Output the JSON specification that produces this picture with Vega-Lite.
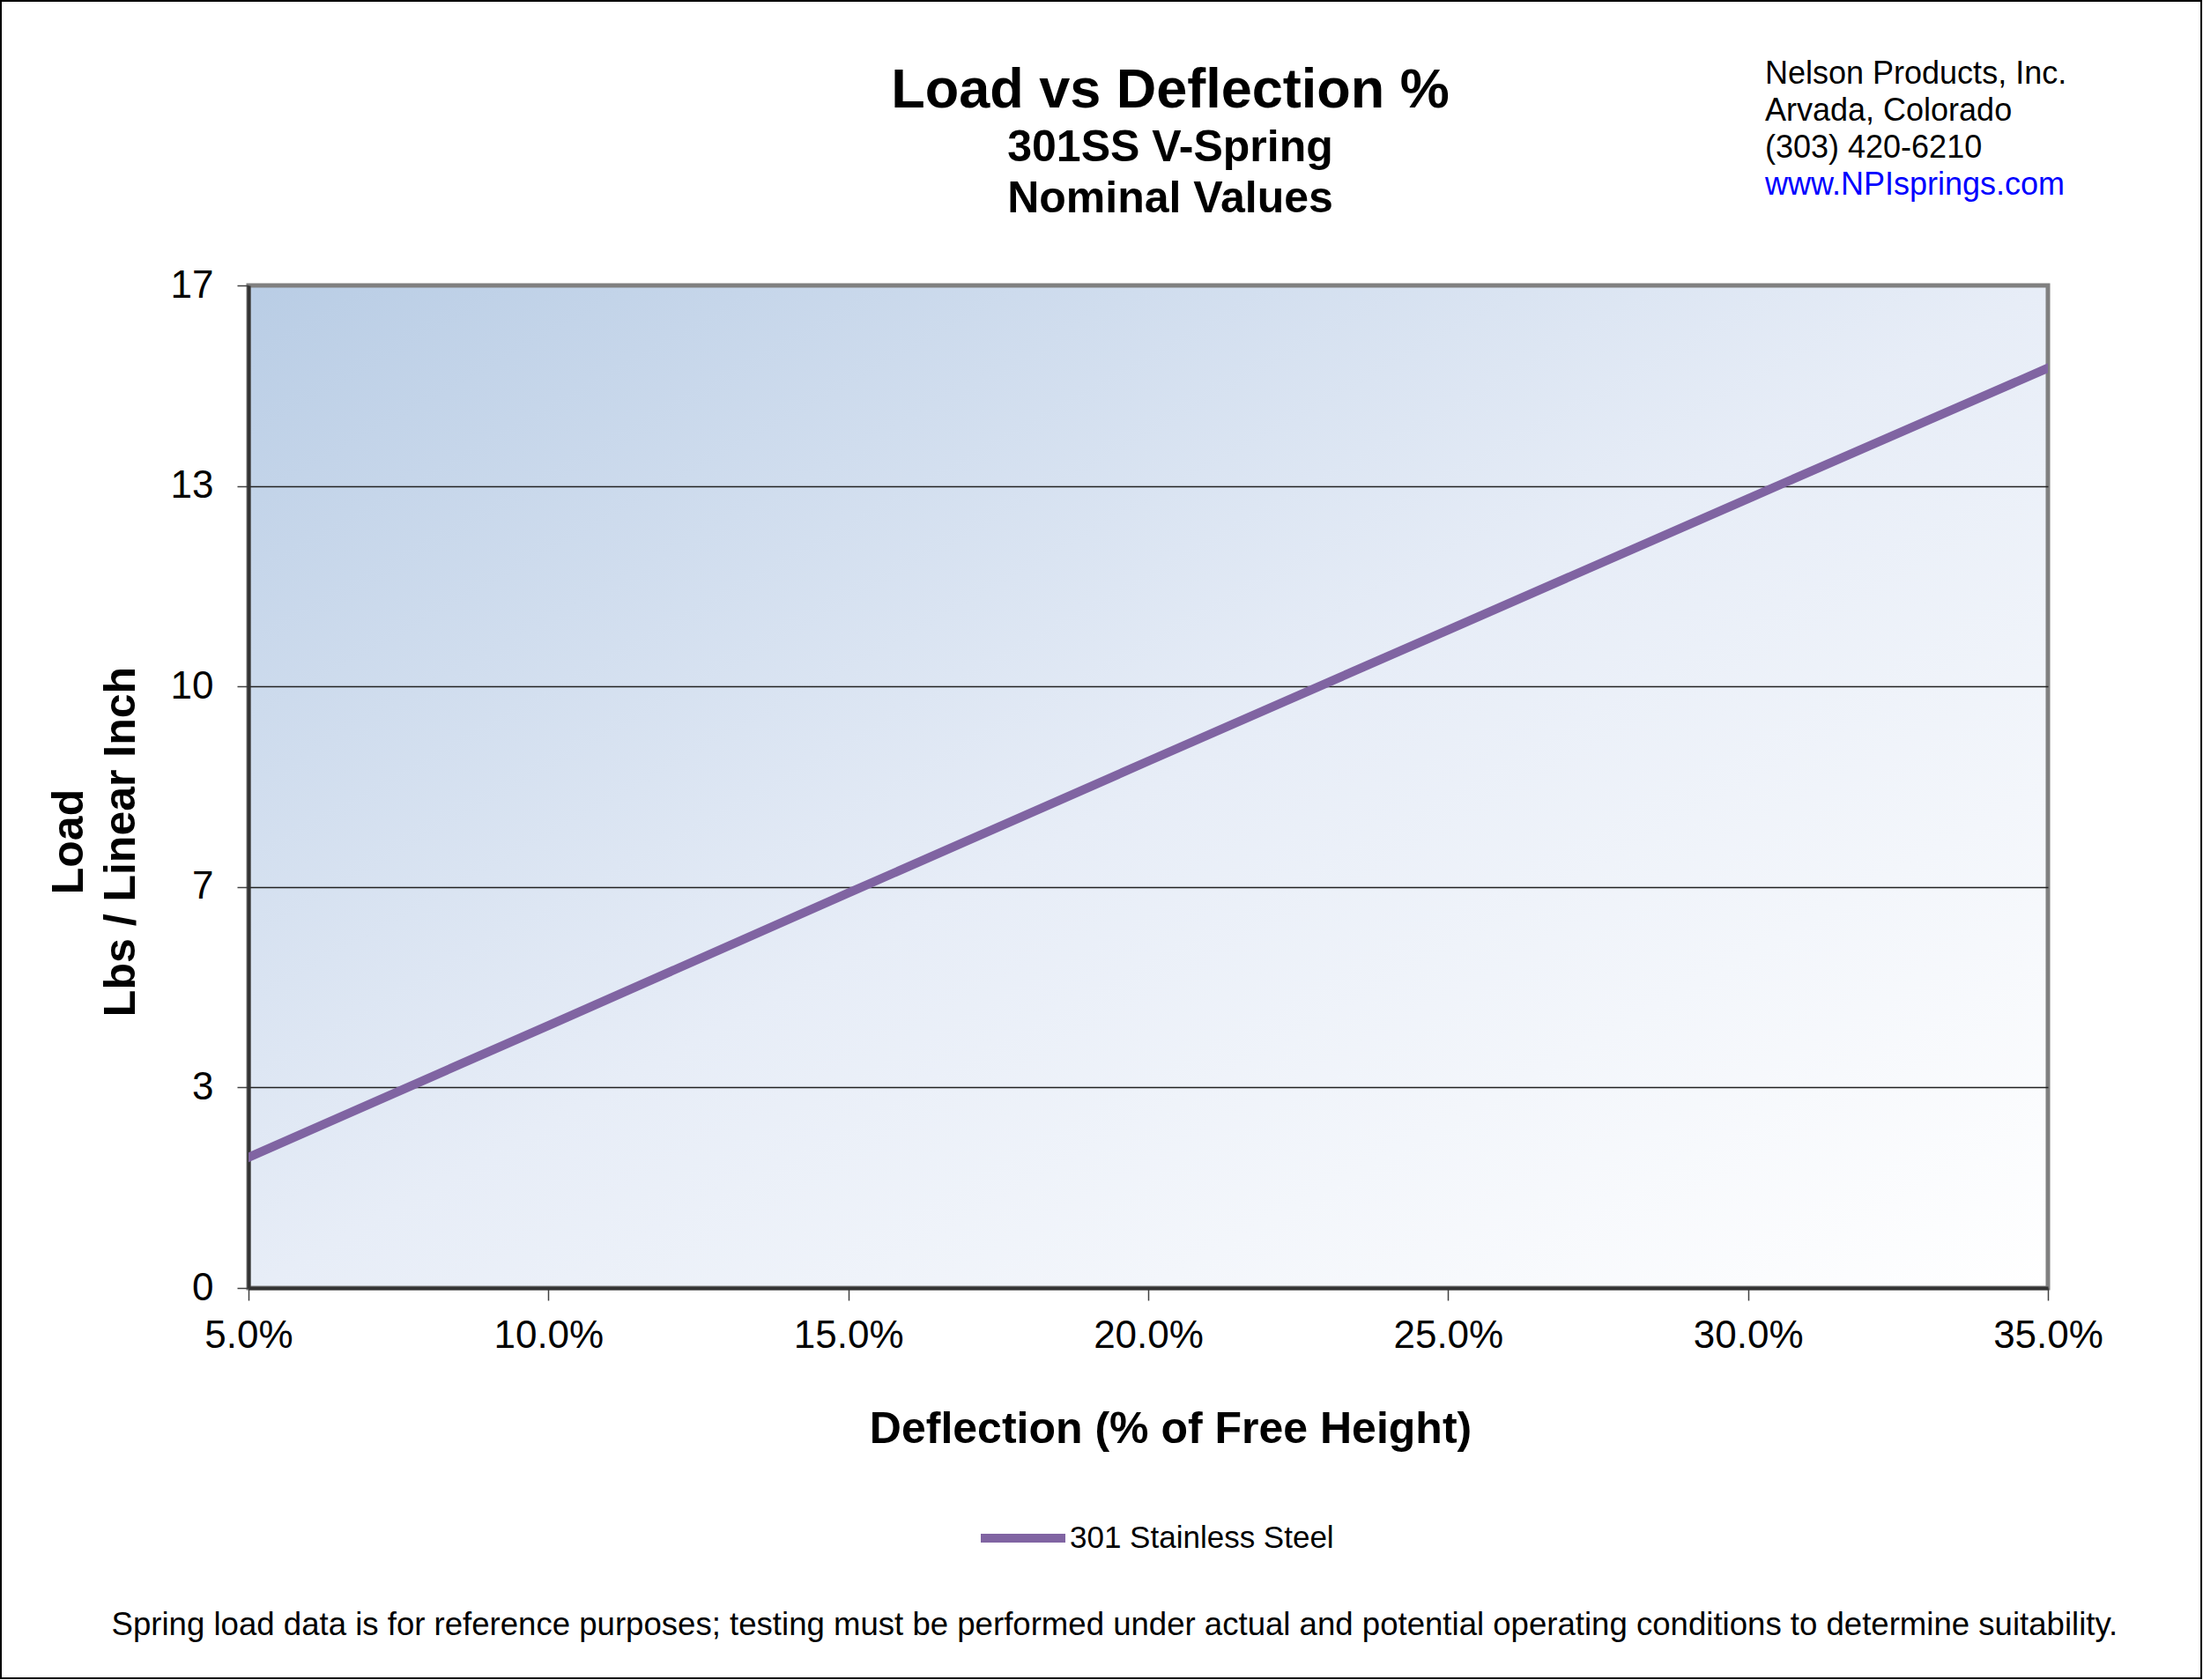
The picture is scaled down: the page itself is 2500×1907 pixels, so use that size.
{
  "$schema": "https://vega.github.io/schema/vega-lite/v6.json",
  "width": 2042,
  "height": 1138,
  "autosize": {"type": "none"},
  "padding": {"left": 282, "top": 324, "right": 176, "bottom": 445},
  "background": "white",
  "config": {
    "font": "Liberation Sans",
    "view": {
      "fill": {
        "gradient": "linear",
        "x1": 0, "y1": 0, "x2": 1, "y2": 1,
        "stops": [
          {"offset": 0, "color": "#b9cde5"},
          {"offset": 0.5, "color": "#e7edf7"},
          {"offset": 1, "color": "#ffffff"}
        ]
      },
      "stroke": "#808080",
      "strokeWidth": 5
    }
  },
  "title": {
    "text": "Load vs Deflection %",
    "subtitle": ["301SS V-Spring", "Nominal Values"],
    "anchor": "middle",
    "frame": "group",
    "dx": 25,
    "dy": 251,
    "offset": 0,
    "fontSize": 63,
    "fontWeight": "bold",
    "color": "black",
    "subtitleFontSize": 50,
    "subtitleFontWeight": "bold",
    "subtitleColor": "black",
    "subtitleLineHeight": 58,
    "subtitlePadding": 8
  },
  "data": {
    "values": [
      {"deflection": 0.05, "load": 2.15, "series": "301 Stainless Steel"},
      {"deflection": 0.10, "load": 4.32, "series": "301 Stainless Steel"},
      {"deflection": 0.15, "load": 6.50, "series": "301 Stainless Steel"},
      {"deflection": 0.20, "load": 8.67, "series": "301 Stainless Steel"},
      {"deflection": 0.25, "load": 10.83, "series": "301 Stainless Steel"},
      {"deflection": 0.30, "load": 12.99, "series": "301 Stainless Steel"},
      {"deflection": 0.35, "load": 15.14, "series": "301 Stainless Steel"}
    ]
  },
  "layer": [
    {
      "mark": {"type": "line", "strokeWidth": 10, "strokeCap": "square", "clip": true},
      "encoding": {
        "x": {
          "field": "deflection",
          "type": "quantitative",
          "scale": {"domain": [0.05, 0.35], "nice": false, "zero": false},
          "axis": {
            "values": [0.05, 0.1, 0.15, 0.2, 0.25, 0.3, 0.35],
            "format": ".1%",
            "title": "Deflection (% of Free Height)",
            "titleFontSize": 50,
            "titleFontWeight": "bold",
            "titleColor": "black",
            "titleX": 1046,
            "titleY": 175,
            "titleAlign": "center",
            "titleBaseline": "alphabetic",
            "labelFontSize": 44,
            "labelColor": "black",
            "labelPadding": 18,
            "labelFlush": false,
            "labelOverlap": false,
            "tickSize": 14,
            "tickColor": "#404040",
            "tickWidth": 1.5,
            "domainColor": "#333333",
            "domainWidth": 4,
            "grid": false
          }
        },
        "y": {
          "field": "load",
          "type": "quantitative",
          "scale": {"domain": [0, 16.5], "nice": false},
          "axis": {
            "values": [0, 3.3, 6.6, 9.9, 13.2, 16.5],
            "labelExpr": "format(datum.value, '.0f')",
            "title": ["Load", "Lbs / Linear Inch"],
            "titleFontSize": 50,
            "titleFontWeight": "bold",
            "titleColor": "black",
            "titleAngle": 270,
            "titleX": -189,
            "titleY": 631,
            "titleAlign": "center",
            "titleBaseline": "alphabetic",
            "titleLineHeight": 59,
            "labelFontSize": 44,
            "labelColor": "black",
            "labelPadding": 27,
            "tickSize": 13,
            "tickColor": "#404040",
            "tickWidth": 1.5,
            "domainColor": "#333333",
            "domainWidth": 4,
            "grid": true,
            "gridColor": "#222222",
            "gridWidth": 1.3,
            "gridOpacity": {"condition": {"test": "datum.value === 0 || datum.value === 16.5", "value": 0}, "value": 1}
          }
        },
        "color": {
          "field": "series",
          "type": "nominal",
          "scale": {"range": ["#8064A2"]},
          "legend": {
            "title": null,
            "orient": "none",
            "legendX": 826,
            "legendY": 1369,
            "padding": 0,
            "symbolType": "stroke",
            "symbolSize": 9216,
            "symbolStrokeWidth": 10,
            "labelFontSize": 35,
            "labelColor": "black",
            "labelOffset": 0,
            "labelLimit": 0
          }
        }
      }
    },
    {
      "data": {"values": [{"info": "Nelson Products, Inc.\nArvada, Colorado\n(303) 420-6210"}]},
      "mark": {"type": "text", "align": "left", "baseline": "alphabetic", "fontSize": 36, "lineBreak": "\n", "lineHeight": 42.3, "color": "black"},
      "encoding": {
        "x": {"datum": 0.30284, "type": "quantitative"},
        "y": {"datum": 19.825, "type": "quantitative"},
        "text": {"field": "info"}
      }
    },
    {
      "data": {"values": [{"url": "www.NPIsprings.com"}]},
      "mark": {"type": "text", "align": "left", "baseline": "alphabetic", "fontSize": 36, "color": "#0000ff"},
      "encoding": {
        "x": {"datum": 0.30284, "type": "quantitative"},
        "y": {"datum": 17.993, "type": "quantitative"},
        "text": {"field": "url"}
      }
    },
    {
      "data": {"values": [{"note": "Spring load data is for reference purposes; testing must be performed under actual and potential operating conditions to determine suitability."}]},
      "mark": {"type": "text", "align": "center", "baseline": "alphabetic", "fontSize": 36.6, "color": "black"},
      "encoding": {
        "x": {"datum": 0.1944, "type": "quantitative"},
        "y": {"datum": -5.713, "type": "quantitative"},
        "text": {"field": "note"}
      }
    },
    {
      "data": {"values": [{"frame": "outer"}]},
      "mark": {"type": "rect", "fill": null, "stroke": "black", "strokeWidth": 2},
      "encoding": {
        "x": {"datum": 0.00872, "type": "quantitative"},
        "x2": {"datum": 0.37557},
        "y": {"datum": 21.182, "type": "quantitative"},
        "y2": {"datum": -6.423}
      }
    }
  ]
}
